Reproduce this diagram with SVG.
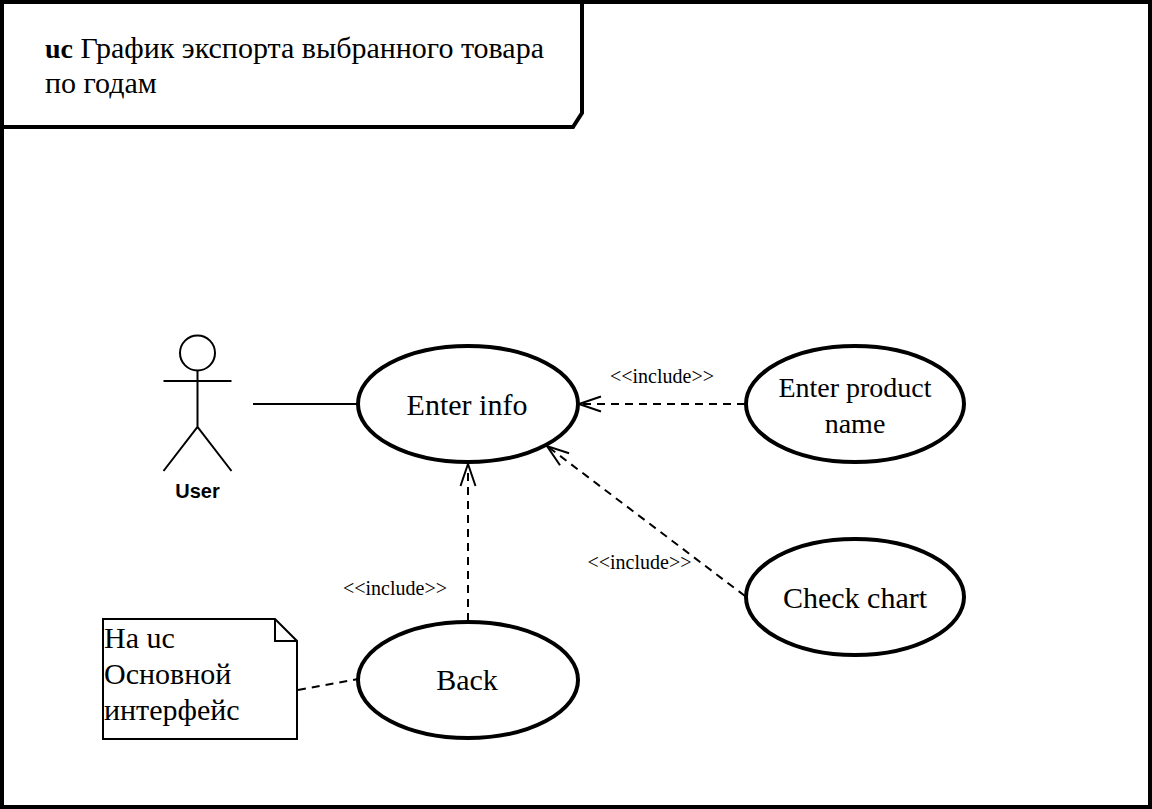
<svg xmlns="http://www.w3.org/2000/svg" width="1152" height="809" viewBox="0 0 1152 809">
<style>
.s{font-family:"Liberation Serif","Times New Roman",serif;fill:#000}
.t{font-size:30px}
.n{font-size:30px;text-anchor:middle}
.m{font-size:28px;text-anchor:middle}
.l{font-size:20px;text-anchor:middle}
.u{fill:#fff;stroke:#000;stroke-width:4}
.c{fill:none;stroke:#000;stroke-width:2}
.d{stroke-dasharray:8 6}
.a{fill:none;stroke:#000;stroke-width:2}
</style>
<defs>
<marker id="arrow" markerUnits="userSpaceOnUse" markerWidth="26" markerHeight="20" refX="25" refY="10" orient="auto" viewBox="0 0 26 20"><path d="M3 2.500L25 10L3 17.500" class="a"/></marker>
</defs>
<rect width="1152" height="809" fill="#fff"/>
<g id="frame">
<rect x="2" y="2" width="1148" height="805" fill="#fff" stroke="#000" stroke-width="4"/>
<path d="M2 2H582V113L573 127H2Z" fill="#fff" stroke="#000" stroke-width="4"/>
<text class="s t" x="45" y="58"><tspan font-weight="bold" font-size="28">uc</tspan> График экспорта выбранного товара</text>
<text class="s t" x="45" y="93">по годам</text>
</g>
<g id="uc-enter-info"><ellipse class="u" cx="468" cy="404" rx="110" ry="58"/><text class="s n" x="467" y="415">Enter info</text></g>
<g id="uc-enter-product"><ellipse class="u" cx="855" cy="404" rx="109" ry="58"/><text class="s m" x="855" y="397">Enter product</text><text class="s m" x="855" y="433">name</text></g>
<g id="uc-check-chart"><ellipse class="u" cx="855" cy="597" rx="109" ry="58"/><text class="s n" x="855" y="608">Check chart</text></g>
<g id="uc-back"><ellipse class="u" cx="468" cy="680" rx="110" ry="58"/><text class="s n" x="467" y="690">Back</text></g>
<g id="actor-user" fill="none" stroke="#000" stroke-width="2">
<circle cx="197.500" cy="353" r="17.500"/>
<path d="M197.500 370.500V427M163.500 381H231.500M163.500 471L197.500 427L231.500 471"/>
<text x="197.500" y="498" font-family="'Liberation Sans',Arial,sans-serif" font-size="20" font-weight="bold" text-anchor="middle" fill="#000" stroke="none">User</text>
</g>
<g id="note">
<path d="M103 619H275L297 641V739H103Z" fill="#fff" stroke="#000" stroke-width="2"/>
<path d="M275 619V641H297" fill="none" stroke="#000" stroke-width="2"/>
<text class="s t" x="104" y="648">На uc</text>
<text class="s t" x="104" y="684">Основной</text>
<text class="s t" x="104" y="720">интерфейс</text>
</g>
<g id="connectors">
<path class="c" d="M253 404H358"/>
<path class="c d" d="M745 404H579" marker-end="url(#arrow)"/>
<path class="c d" d="M745 596L547 446" marker-end="url(#arrow)"/>
<path class="c d" d="M468 621V464" marker-end="url(#arrow)"/>
<path class="c d" d="M298 690L358 679"/>
</g>
<g id="labels">
<text class="s l" x="662" y="383">&lt;&lt;include&gt;&gt;</text>
<text class="s l" x="639.500" y="569">&lt;&lt;include&gt;&gt;</text>
<text class="s l" x="395" y="595">&lt;&lt;include&gt;&gt;</text>
</g>
</svg>
